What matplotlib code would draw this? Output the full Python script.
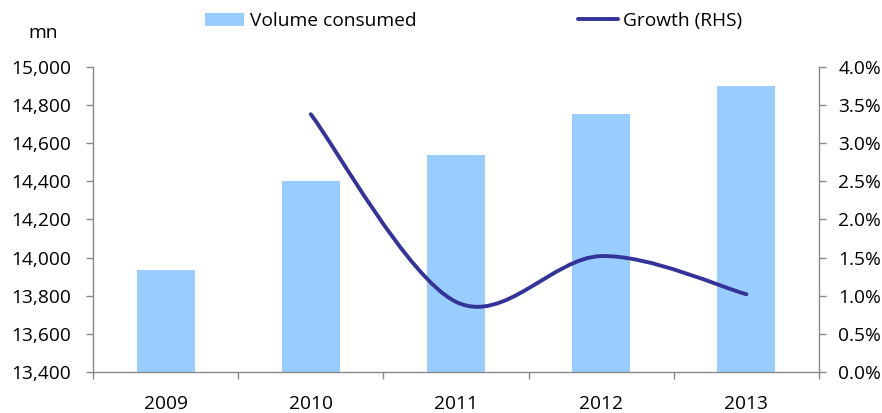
import matplotlib
matplotlib.use("Agg")
import numpy as np
import matplotlib.pyplot as plt
from matplotlib.path import Path
from matplotlib.patches import PathPatch, Patch
from matplotlib.lines import Line2D
import matplotlib.ticker as mticker

plt.rcParams['font.family'] = ['Open Sans', 'DejaVu Sans']

years = ['2009', '2010', '2011', '2012', '2013']
volume = [13935, 14402, 14538, 14753, 14900]
growth_years = ['2010', '2011', '2012', '2013']
growth = [3.38, 0.92, 1.52, 1.02]

bar_color = '#99CCFF'
line_color = '#333399'
axis_color = '#888888'
fs = 13.8
lw = 2.8

fig = plt.figure(figsize=(8.82, 4.13), dpi=100)
ax = fig.add_axes([0.1054, 0.0993, 0.8232, 0.7385])
ax2 = ax.twinx()

x = list(range(len(years)))
ax.bar(x, volume, width=0.4, color=bar_color, zorder=2)
ax.set_xlim(-0.5, len(years) - 0.5)
ax.set_ylim(13400, 15000)
ax.yaxis.set_major_locator(mticker.MultipleLocator(200))
ax.yaxis.set_major_formatter(mticker.FuncFormatter(lambda v, p: f"{v:,.0f}"))

ax2.set_xlim(-0.5, len(years) - 0.5)
ax2.set_ylim(0, 4.0)
ax2.yaxis.set_major_locator(mticker.MultipleLocator(0.5))
ax2.yaxis.set_major_formatter(mticker.FuncFormatter(lambda v, p: f"{v:.1f}%"))

# Excel-style smoothed line (Catmull-Rom Bezier, tension 1/6) in display space
gx = [years.index(y) for y in growth_years]
T = ax2.transData
P = T.transform(np.column_stack([gx, growth]))
n = len(P)
verts = [P[0]]
codes = [Path.MOVETO]
for i in range(n - 1):
    p0 = P[i - 1] if i > 0 else P[i]
    p1 = P[i]
    p2 = P[i + 1]
    p3 = P[i + 2] if i + 2 < n else P[i + 1]
    d12 = np.hypot(*(p2 - p1))
    f1 = 1 / 6
    f2 = 1 / 6
    d02 = np.hypot(*(p2 - p0))
    d13 = np.hypot(*(p3 - p1))
    if d02 * f1 > d12 / 2:
        f1 = d12 / 2 / d02
    if d13 * f2 > d12 / 2:
        f2 = d12 / 2 / d13
    c1 = p1 + (p2 - p0) * f1
    c2 = p2 - (p3 - p1) * f2
    verts += [c1, c2, p2]
    codes += [Path.CURVE4] * 3
verts = T.inverted().transform(np.array(verts))
ax2.add_patch(PathPatch(Path(verts, codes), facecolor='none', edgecolor=line_color,
                        lw=lw, capstyle='round', joinstyle='round', zorder=3))

# spines / ticks
for a in (ax, ax2):
    for s in a.spines.values():
        s.set_visible(False)
ax.spines['left'].set_visible(True)
ax.spines['bottom'].set_visible(True)
ax2.spines['right'].set_visible(True)
for s in (ax.spines['left'], ax.spines['bottom'], ax2.spines['right']):
    s.set_color(axis_color)
    s.set_linewidth(1.0)

ax.set_xticks([i - 0.5 for i in range(len(years) + 1)])
ax.set_xticklabels([])
ax.set_xticks(x, minor=True)
ax.set_xticklabels(years, minor=True)
ax.tick_params(axis='x', which='major', direction='out', length=5, color=axis_color, width=1)
ax.tick_params(axis='x', which='minor', length=0, pad=16.5, labelsize=fs)
ax.tick_params(axis='y', direction='out', length=5, color=axis_color, width=1, pad=11, labelsize=fs)
ax2.tick_params(axis='y', direction='out', length=5, color=axis_color, width=1, pad=9, labelsize=fs)

fig.text(0.049, 0.92, 'mn', fontsize=fs, ha='center', va='center')

handles = [Patch(facecolor=bar_color, edgecolor='none'),
           Line2D([0], [0], color=line_color, lw=lw, solid_capstyle='round')]
fig.legend(handles, ['Volume consumed', 'Growth (RHS)'], loc='center',
           bbox_to_anchor=(0.537, 0.949), ncol=2, frameon=False, fontsize=fs,
           handlelength=2.05, handletextpad=0.28, columnspacing=8.45)

fig.savefig('out.png', dpi=100)
